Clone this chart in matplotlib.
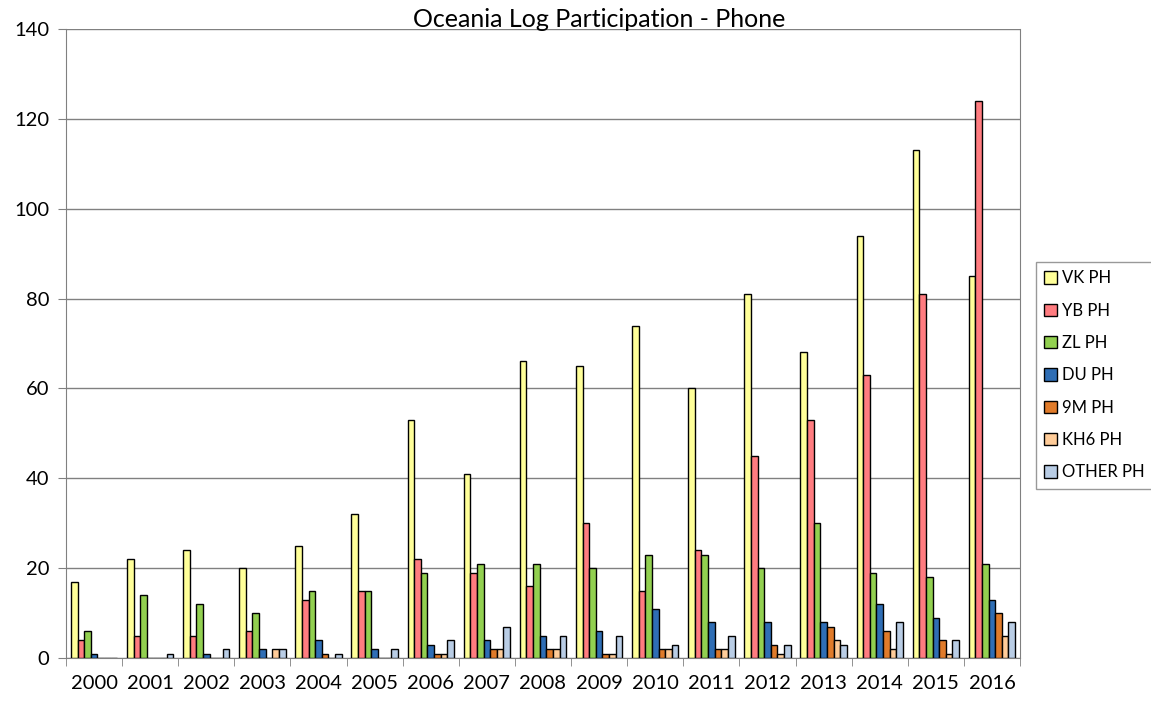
import numpy as np
import matplotlib.pyplot as plt

years = ['2000', '2001', '2002', '2003', '2004', '2005', '2006', '2007', '2008',
         '2009', '2010', '2011', '2012', '2013', '2014', '2015', '2016']

vk_ph = [17, 22, 24, 20, 25, 32, 53, 41, 66, 65, 74, 60, 81, 68, 94, 113, 85]
yb_ph = [4, 5, 5, 6, 13, 15, 22, 19, 16, 30, 15, 24, 45, 53, 63, 81, 124]
zl_ph = [6, 14, 12, 10, 15, 15, 19, 21, 21, 20, 23, 23, 20, 30, 19, 18, 21]
du_ph = [1, 0, 1, 2, 4, 2, 3, 4, 5, 6, 11, 8, 8, 8, 12, 9, 13]
m9_ph = [0, 0, 0, 0, 1, 0, 1, 2, 2, 1, 2, 2, 3, 7, 6, 4, 10]
kh6_ph = [0, 0, 0, 2, 0, 0, 1, 2, 2, 1, 2, 2, 1, 4, 2, 1, 5]
other_ph = [0, 1, 2, 2, 1, 2, 4, 7, 5, 5, 3, 5, 3, 3, 8, 4, 8]

series = [('VK PH', vk_ph, '#FFFF99'),
          ('YB PH', yb_ph, '#FF7C80'),
          ('ZL PH', zl_ph, '#92D050'),
          ('DU PH', du_ph, '#2F6EB5'),
          ('9M PH', m9_ph, '#E07B2A'),
          ('KH6 PH', kh6_ph, '#FFCC99'),
          ('OTHER PH', other_ph, '#B9CDE5')]

plt.rcParams['font.family'] = ['Lato', 'DejaVu Sans']

fig = plt.figure(figsize=(11.51, 7.01), dpi=100)
ax = fig.add_axes([66 / 1151, 1 - 658 / 701, (1020 - 66) / 1151, (658 - 29) / 701])

x = np.arange(len(years))
w = 0.118
for i, (name, vals, col) in enumerate(series):
    ax.bar(x + (i - 3) * w, vals, w, color=col, edgecolor='black', linewidth=1.0,
           label=name, zorder=3)

ax.set_xlim(-0.5, len(years) - 0.5)
ax.set_ylim(0, 140)
ax.set_yticks(range(0, 141, 20))
ax.set_xticks(x)
ax.set_xticklabels(years)
ax.set_xticks(np.arange(-0.5, len(years), 1), minor=True)
ax.tick_params(axis='x', which='major', length=0, pad=12, labelsize=14.5)
ax.tick_params(axis='x', which='minor', length=6, color='#808080', direction='out')
ax.tick_params(axis='y', length=6, color='#808080', labelsize=14.5, pad=6)
ax.grid(axis='y', color='#808080', linewidth=1.0, zorder=0)
for s in ax.spines.values():
    s.set_color('#808080')
ax.spines['top'].set_visible(False)

fig.text(0.521, 0.972, 'Oceania Log Participation - Phone', ha='center', va='center',
         fontsize=18)

leg = fig.legend(*ax.get_legend_handles_labels(), loc='upper left',
                 bbox_to_anchor=(1036 / 1151, 1 - 262 / 701), frameon=True,
                 fancybox=False, edgecolor='#808080', fontsize=12,
                 handlelength=0.75, handleheight=0.75, handletextpad=0.3,
                 labelspacing=0.98, borderpad=0.5, borderaxespad=0)
leg.get_frame().set_linewidth(1.0)

fig.savefig('out.png', dpi=100)
